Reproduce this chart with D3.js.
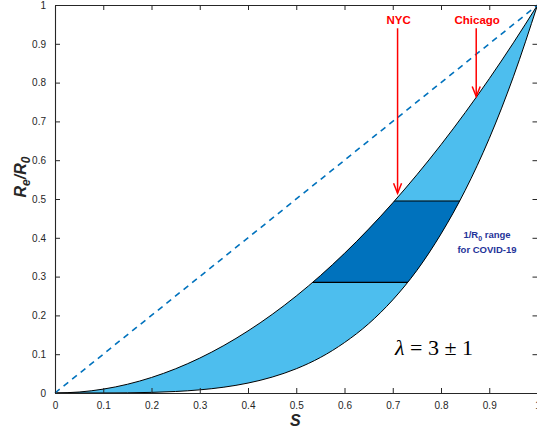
<!DOCTYPE html>
<html><head><meta charset="utf-8">
<script src="https://cdn.jsdelivr.net/npm/d3@7"></script>
<style>body{margin:0;background:#fff;}svg{display:block;}</style>
</head><body>
<svg id="c" width="537" height="431"></svg>
<script>
// ---- data ----
const sValues = [0,0.05,0.1,0.15,0.2,0.25,0.3,0.35,0.4,0.45,0.5,0.55,0.6,0.65,0.7,0.75,0.8,0.85,0.9,0.95,1];
const upperCurve = [0,0.0025,0.01,0.0225,0.04,0.0625,0.09,0.1225,0.16,0.2025,0.25,0.3025,0.36,0.4225,0.49,0.5625,0.64,0.7225,0.81,0.9025,1];
const lowerCurve = [0,0,0.0001,0.0005,0.0016,0.0039,0.0081,0.015,0.0256,0.041,0.0625,0.0915,0.13,0.1785,0.24,0.316,0.41,0.522,0.656,0.815,1];
const diagonal = [[0,0],[1,1]];
const covidRange = [0.285, 0.495];
const cityNames = ["NYC", "Chicago"];
const cityS = [0.71, 0.873];
const cityArrowTop = [0.94, 0.94];
const cityArrowTip = [0.515, 0.764];
const xTicks = [0,0.1,0.2,0.3,0.4,0.5,0.6,0.7,0.8,0.9,1];
const yTicks = [0,0.1,0.2,0.3,0.4,0.5,0.6,0.7,0.8,0.9,1];

const svg = d3.select("#c");
const L = 55, R = 537.5, T = 5, B = 393;
const x = d3.scaleLinear().domain([0,1]).range([L,R]);
const y = d3.scaleLinear().domain([0,1]).range([B,T]);
const pts = sValues.map((s,i)=>({s, up:upperCurve[i], lo:lowerCurve[i]}));

const area = d3.area().curve(d3.curveMonotoneX)
  .x(d=>x(d.s)).y0(d=>y(d.lo)).y1(d=>y(d.up));

svg.append("clipPath").attr("id","band").append("path").attr("d", area(pts));

// light region
svg.append("path").attr("d", area(pts)).attr("fill","#4DBEEE").attr("stroke","none");
// dark COVID band
const g = svg.append("g").attr("clip-path","url(#band)");
g.append("rect").attr("x",L).attr("width",R-L)
  .attr("y",y(covidRange[1])).attr("height",y(covidRange[0])-y(covidRange[1]))
  .attr("fill","#0072BD");
covidRange.forEach(v=>{
  g.append("line").attr("x1",L).attr("x2",R).attr("y1",y(v)).attr("y2",y(v))
    .attr("stroke","#000").attr("stroke-width",1.1);
});
// curves outline
const lineUp = d3.line().curve(d3.curveMonotoneX).x(d=>x(d.s)).y(d=>y(d.up));
const lineLo = d3.line().curve(d3.curveMonotoneX).x(d=>x(d.s)).y(d=>y(d.lo));
svg.append("path").attr("d",lineUp(pts)).attr("fill","none").attr("stroke","#000").attr("stroke-width",1);
svg.append("path").attr("d",lineLo(pts)).attr("fill","none").attr("stroke","#000").attr("stroke-width",1);

// diagonal dashed
svg.append("path").attr("d", d3.line().x(d=>x(d[0])).y(d=>y(d[1]))(diagonal))
  .attr("fill","none").attr("stroke","#0072BD").attr("stroke-width",1.6).attr("stroke-dasharray","6,5");

// axes box
const axisColor = "#262626";
const tickFont = "Liberation Sans, Arial, sans-serif";
const gx = svg.append("g").attr("transform",`translate(0,${B})`)
  .call(d3.axisBottom(x).tickValues(xTicks).tickSizeInner(-5).tickSizeOuter(0).tickPadding(9).tickFormat(d3.format("")));
const gxt = svg.append("g").attr("transform",`translate(0,${T})`)
  .call(d3.axisTop(x).tickValues(xTicks).tickSizeInner(-5).tickSizeOuter(0).tickFormat(""));
const gy = svg.append("g").attr("transform",`translate(${L},0)`)
  .call(d3.axisLeft(y).tickValues(yTicks).tickSizeInner(-5).tickSizeOuter(0).tickPadding(9).tickFormat(d3.format("")));
const gyr = svg.append("g").attr("transform",`translate(${R},0)`)
  .call(d3.axisRight(y).tickValues(yTicks).tickSizeInner(-5).tickSizeOuter(0).tickFormat(""));
[gx,gxt,gy,gyr].forEach(a=>{
  a.selectAll("path").attr("stroke",axisColor).attr("stroke-width",1.1);
  a.selectAll("line").attr("stroke",axisColor).attr("stroke-width",1);
  a.selectAll("text").attr("fill",axisColor).style("font-family",tickFont).style("font-size","10px");
});

// axis labels
svg.append("text").attr("x",x(0.5)-1).attr("y",426).attr("text-anchor","middle")
  .style("font-family","Liberation Sans, Arial, sans-serif").style("font-size","16px")
  .style("font-weight","bold").style("font-style","italic").attr("fill",axisColor).text("S");
const yl = svg.append("text").attr("transform","translate(26,177) rotate(-90)").attr("text-anchor","middle")
  .style("font-family","Liberation Sans, Arial, sans-serif").style("font-size","16px")
  .style("font-weight","bold").style("font-style","italic").attr("fill",axisColor);
yl.append("tspan").text("R");
yl.append("tspan").text("e").attr("dy",4).style("font-size","12px");
yl.append("tspan").text("/R").attr("dy",-4);
yl.append("tspan").text("0").attr("dy",4).style("font-size","12px");

// city arrows
cityNames.forEach((name,i)=>{
  const cx = x(cityS[i]);
  const y0 = y(cityArrowTop[i]), y1 = y(cityArrowTip[i]);
  svg.append("line").attr("x1",cx).attr("x2",cx).attr("y1",y0).attr("y2",y1)
    .attr("stroke","#FF0000").attr("stroke-width",1.5);
  svg.append("path").attr("d",`M${cx-4},${y1-10}L${cx},${y1}L${cx+4},${y1-10}`)
    .attr("fill","none").attr("stroke","#FF0000").attr("stroke-width",1.5);
  svg.append("text").attr("x",cx+1).attr("y",y0-4).attr("text-anchor","middle")
    .style("font-family","Liberation Sans, Arial, sans-serif").style("font-size","11.5px")
    .style("font-weight","bold").attr("fill","#FF0000").text(name);
});

// 1/R0 annotation
const ann = svg.append("text").attr("x",487).attr("y",238).attr("text-anchor","middle")
  .style("font-family","Liberation Sans, Arial, sans-serif").style("font-size","9.5px")
  .style("font-weight","bold").attr("fill","#1F3399");
ann.append("tspan").text("1/R");
ann.append("tspan").text("0").attr("dy",3).style("font-size","7px");
ann.append("tspan").text(" range").attr("dy",-3);
svg.append("text").attr("x",487).attr("y",253).attr("text-anchor","middle")
  .style("font-family","Liberation Sans, Arial, sans-serif").style("font-size","9.5px")
  .style("font-weight","bold").attr("fill","#1F3399").text("for COVID-19");

// lambda label
const lam = svg.append("text").attr("x",434).attr("y",355).attr("text-anchor","middle")
  .style("font-family","Liberation Serif, Times New Roman, serif").style("font-size","22px").attr("fill","#000");
lam.append("tspan").text("λ").style("font-style","italic");
lam.append("tspan").text(" = 3 ± 1");
</script>
</body></html>
